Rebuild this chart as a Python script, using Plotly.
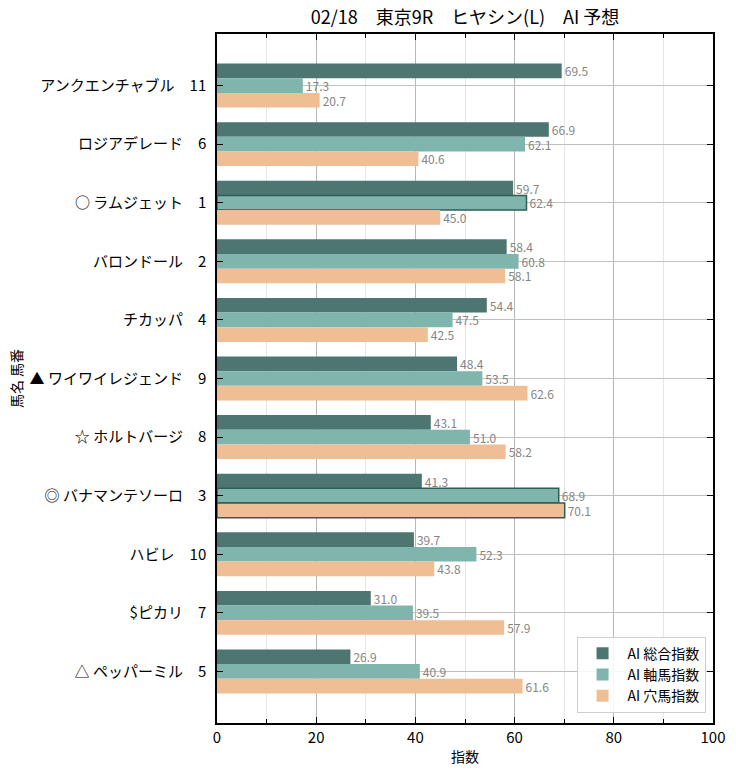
import plotly.graph_objects as go

horse_names = ["アンクエンチャブル", "ロジアデレード", "○ ラムジェット", "バロンドール", "チカッパ",
               "▲ ワイワイレジェンド", "☆ ホルトバージ", "◎ バナマンテソーロ", "ハビレ", "$ピカリ", "△ ペッパーミル"]
horse_numbers = ["11", "6", "1", "2", "4", "9", "8", "3", "10", "7", "5"]
sogo = [69.5, 66.9, 59.7, 58.4, 54.4, 48.4, 43.1, 41.3, 39.7, 31.0, 26.9]
jiku = [17.3, 62.1, 62.4, 60.8, 47.5, 53.5, 51.0, 68.9, 52.3, 39.5, 40.9]
ana = [20.7, 40.6, 45.0, 58.1, 42.5, 62.6, 58.2, 70.1, 43.8, 57.9, 61.6]
series_names = ["AI 総合指数", "AI 軸馬指数", "AI 穴馬指数"]

# highlighted (outlined) bars per series, by horse number
outlined = {"AI 総合指数": [], "AI 軸馬指数": ["1", "3"], "AI 穴馬指数": ["3"]}

colors = ["#4d7670", "#7fb5ad", "#efbe95"]
labels = [f"{n}\u3000{k}" for n, k in zip(horse_names, horse_numbers)]
FONT = "Noto Sans CJK JP"

fig = go.Figure()
for name, vals, col in zip(series_names, [sogo, jiku, ana], colors):
    lw = [1.5 if k in outlined[name] else 0 for k in horse_numbers]
    fig.add_trace(go.Bar(
        y=labels, x=vals, name=name, orientation="h",
        marker=dict(color=col, line=dict(color="#2f5e57", width=lw)),
        text=[f"{v:.1f}" for v in vals], textposition="outside",
        textfont=dict(color="#858585", size=12, family=FONT),
        constraintext="none", cliponaxis=False,
    ))

fig.update_layout(
    width=736, height=771,
    barmode="group", bargap=0.25, bargroupgap=0,
    plot_bgcolor="white", paper_bgcolor="white",
    margin=dict(l=217, r=23, t=34, b=48, autoexpand=False),
    font=dict(family=FONT, size=14, color="black"),
    title=dict(text="02/18　東京9R　ヒヤシン(L)　AI 予想", x=0.5, xanchor="center",
               xref="paper", y=1 - 18 / 771, yanchor="middle", font=dict(size=18)),
    legend=dict(x=0.985, y=0.015, xanchor="right", yanchor="bottom",
                bordercolor="#d0d0d0", borderwidth=1, bgcolor="rgba(255,255,255,0.85)",
                font=dict(size=14), traceorder="normal", itemwidth=40),
    showlegend=True,
)
fig.update_xaxes(
    range=[0, 100], dtick=20, showgrid=True, gridcolor="#b8b8b8", gridwidth=1,
    minor=dict(dtick=10, showgrid=True, gridcolor="#e6e6e6", ticks="inside", ticklen=4, tickcolor="black"),
    ticks="inside", ticklen=6, tickcolor="black", showline=True, linecolor="black", linewidth=1.5,
    mirror="ticks", zeroline=False, automargin=False,
    title=dict(text="指数", font=dict(size=14), standoff=6),
    tickfont=dict(size=15),
)
fig.update_yaxes(
    autorange=False, range=[10.88, -0.88], type="category",
    categoryorder="array", categoryarray=labels,
    showgrid=True, gridcolor="#c0c0c0", gridwidth=1,
    ticks="inside", ticklen=6, tickcolor="black", showline=True, linecolor="black", linewidth=1.5,
    mirror="ticks", ticklabelstandoff=6, automargin=False,
    title=dict(text="馬名 馬番", font=dict(size=14), standoff=4),
    tickfont=dict(size=15),
)
fig.write_html("out.html")
